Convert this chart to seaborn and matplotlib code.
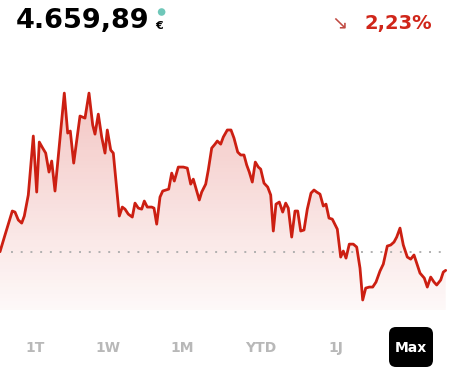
import numpy as np
import pandas as pd
import matplotlib.pyplot as plt
import seaborn as sns
from matplotlib.colors import LinearSegmentedColormap
from matplotlib.patches import FancyBboxPatch, Circle

# price series (time axis in chart units, "Max" range)
t = [0, 5, 12.3, 15, 18.3, 21.7, 24.3, 28.3, 33.3, 36.7, 39.3, 42.7, 45.7, 49, 51.7,
     55, 60, 64.3, 67.7, 70.3, 73.7, 80, 85, 89, 92.7, 95, 98.3, 101.7, 105, 107.3,
     110.7, 113.3, 119.3, 122.3, 125, 128.3, 132.3, 135, 138.3, 141.7, 144.3, 147.3,
     151.7, 154, 156.7, 160, 162.7, 166, 168.7, 171.7, 174.3, 178.3, 183.3, 187.3,
     190.7, 193.3, 196.7, 199.3, 201.7, 205.7, 208.3, 211.7, 215, 217.3, 220.7, 223.3,
     227.3, 231, 234, 237.7, 240.7, 244, 246.7, 249.3, 252.3, 255.3, 258.3, 260.7, 264,
     267.7, 270.7, 273.3, 276, 279.3, 282.7, 285.7, 288.3, 291.7, 295, 297.7, 300.7,
     304, 307.3, 311, 314, 316.7, 320, 323.3, 326, 329, 332.3, 337.3, 340.7, 343.3, 346,
     349.3, 353.3, 356.7, 360, 362.7, 365.7, 369.3, 372.7, 376, 380, 383.3, 387.3,
     390.7, 394, 396.7, 400, 403.3, 407.3, 410.7, 414, 417.3, 420, 424.3, 427.3, 430.7,
     434, 436.7, 440.7, 443.3, 445.7]
price = [4768, 4865, 5004, 4998, 4952, 4934, 4975, 5097, 5439, 5114, 5404, 5369, 5340,
         5230, 5294, 5120, 5427, 5688, 5456, 5468, 5282, 5555, 5543, 5688, 5503, 5450,
         5566, 5433, 5340, 5474, 5358, 5340, 4975, 5027, 5015, 4986, 4969, 5050, 5021,
         5015, 5062, 5027, 5027, 5021, 4928, 5085, 5120, 5126, 5131, 5224, 5178, 5259,
         5259, 5253, 5160, 5189, 5120, 5068, 5114, 5160, 5242, 5369, 5392, 5410, 5392,
         5433, 5474, 5474, 5427, 5346, 5329, 5329, 5271, 5230, 5172, 5288, 5259, 5247,
         5166, 5143, 5097, 4888, 5044, 5056, 4998, 5050, 5021, 4853, 5004, 5004, 4888,
         4894, 5015, 5108, 5126, 5114, 5102, 5033, 5044, 4963, 4957, 4899, 4737, 4772,
         4731, 4812, 4812, 4795, 4673, 4488, 4557, 4563, 4563, 4592, 4656, 4696, 4801,
         4807, 4824, 4853, 4905, 4807, 4737, 4725, 4749, 4691, 4644, 4615, 4563, 4621,
         4592, 4575, 4604, 4650, 4660]
start_price = 4766
last_label = "4.659,89"
change_label = "2,23%"
ranges = ["1T", "1W", "1M", "YTD", "1J", "Max"]

df = pd.DataFrame({"t": t, "price": price})

sns.set_style("white")
plt.rcParams["font.family"] = ["DejaVu Sans"]

red = "#cc1f12"

fig = plt.figure(figsize=(4.51, 3.91), dpi=100)
ax = fig.add_axes([0, 81 / 391, 1, 230 / 391])
y_lo, y_hi = 4430, 5764
ax.set_xlim(0, 451)
ax.set_ylim(y_lo, y_hi)

# gradient fill under the line
poly = ax.fill_between(df["t"], df["price"], y_lo, facecolor="none", edgecolor="none")
cmap = LinearSegmentedColormap.from_list(
    "fade", [(0.83, 0.16, 0.12, 0.03), (0.83, 0.16, 0.12, 0.28)])
grad = np.linspace(0, 1, 256).reshape(-1, 1)
img = ax.imshow(grad, cmap=cmap, aspect="auto", origin="lower",
                extent=[0, 451, y_lo, y_hi], zorder=1)
clip = poly.get_paths()[0]
img.set_clip_path(clip, transform=ax.transData)

ax.axhline(start_price, xmin=11 / 451, xmax=445 / 451, color="#b0b0b0",
           lw=1.4, linestyle=(0, (1, 4)), zorder=2)

sns.lineplot(data=df, x="t", y="price", ax=ax, color=red, lw=2.0, zorder=3)

ax.set_xlabel("")
ax.set_ylabel("")
ax.set_xticks([])
ax.set_yticks([])
sns.despine(ax=ax, left=True, bottom=True)

# header
H = 391
txt = fig.text(16 / 451, 1 - 28 / H, last_label, fontsize=19.5, fontweight="bold",
               color="black", va="baseline")
fig.canvas.draw()
bb = txt.get_window_extent()
x_end = bb.x1
fig.text((x_end + 6) / 451, 1 - 29 / H, "€", fontsize=8, fontweight="bold",
         color="black", va="baseline")
fig.patches.append(Circle((x_end + 12, H - 12), 3.8, transform=None,
                          facecolor="#6fc7b9", edgecolor="none"))

fig.text(432 / 451, 1 - 29 / H, change_label, fontsize=14, fontweight="bold",
         color="#d0261a", ha="right", va="baseline")
fig.text(348 / 451, 1 - 28 / H, "↘", fontsize=14, color="#c04a42",
         ha="right", va="baseline")

# range selector
centers = [35, 108, 182, 261, 336, 411]
fig.patches.append(FancyBboxPatch((3.89, (H - 367) / 100), 0.44, 0.40,
                                  boxstyle="round,pad=0,rounding_size=0.07",
                                  transform=fig.dpi_scale_trans,
                                  facecolor="black", edgecolor="none"))
for lab, cx in zip(ranges, centers):
    active = lab == "Max"
    fig.text(cx / 451, 1 - 348 / H, lab, fontsize=10, fontweight="bold",
             color="white" if active else "#b8b8b8", ha="center", va="center")

fig.savefig("out.png", dpi=100)
